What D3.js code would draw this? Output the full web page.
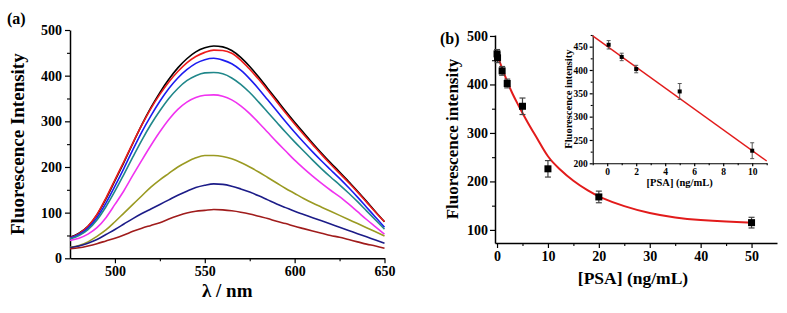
<!DOCTYPE html>
<html>
<head>
<meta charset="utf-8">
<script src="https://cdn.jsdelivr.net/npm/d3@7"></script>
<style>
body { margin: 0; background: #fff; }
svg { display: block; font-family: "Liberation Serif", "Times New Roman", serif; font-weight: bold; }
</style>
</head>
<body>
<svg id="chart" width="787" height="313"></svg>
<script>
// ---- panel (a): emission spectra, every 5 nm ----
var wavelengths = [475, 480, 485, 490, 495, 500, 505, 510, 515, 520, 525, 530, 535, 540, 545, 550, 555, 560,
                   565, 570, 575, 580, 585, 590, 595, 600, 605, 610, 615, 620, 625, 630, 635, 640, 645, 650];
var spec0   = [46, 55, 70, 95, 130, 170, 210, 252, 293, 330, 363, 392, 417, 437, 452, 461, 465, 463,
               455, 440, 420, 397, 372, 347, 322, 298, 275, 252, 230, 209, 189, 168, 147, 125, 102, 80];
var spec01  = [45, 54, 70, 96, 132, 172, 212, 253, 292, 328, 359, 386, 409, 428, 442, 451, 456, 455,
               449, 434, 414, 392, 368, 343, 318, 294, 271, 249, 227, 206, 186, 166, 145, 123, 101, 80];
var spec1   = [44, 52, 66, 89, 121, 158, 197, 238, 277, 312, 344, 372, 395, 413, 427, 435, 438, 434,
               426, 412, 393, 371, 347, 323, 299, 276, 254, 233, 213, 194, 175, 155, 134, 112, 90, 68];
var spec2   = [42, 50, 63, 84, 113, 147, 184, 222, 259, 293, 323, 350, 372, 389, 400, 406, 407, 404,
               395, 381, 363, 342, 320, 298, 276, 255, 235, 215, 196, 178, 161, 143, 124, 104, 84, 64];
var spec5   = [39, 44, 53, 67, 89, 118, 148, 182, 215, 247, 277, 304, 326, 342, 352, 357, 358, 355,
               347, 334, 317, 297, 276, 255, 235, 215, 197, 180, 164, 149, 135, 119, 102, 85, 69, 53];
var spec10  = [24, 28, 36, 48, 62, 80, 99, 118, 137, 156, 172, 186, 200, 211, 220, 225, 225, 223,
               218, 210, 200, 189, 177, 165, 153, 142, 131, 121, 112, 103, 94, 85, 76, 67, 58, 49];
var spec20  = [23, 27, 33, 41, 52, 63, 75, 87, 98, 108, 118, 128, 138, 147, 155, 160, 163, 162,
               158, 152, 145, 137, 128, 119, 111, 103, 96, 89, 82, 75, 68, 61, 54, 47, 40, 33];
var spec50  = [21, 23, 27, 32, 38, 44, 51, 59, 66, 72, 78, 86, 93, 99, 103, 105, 107, 106,
               104, 101, 97, 92, 87, 81, 76, 70, 65, 60, 55, 50, 46, 41, 36, 31, 27, 22];
var spectra = [spec0, spec01, spec1, spec2, spec5, spec10, spec20, spec50];
var specColors = ["#000000", "#ee1c1c", "#1c1cf0", "#20878a", "#f033f0", "#9a9a22", "#1c1c88", "#a01c1c"];

// ---- panel (b): quenching vs PSA concentration ----
var psaConc  = [0, 0.1, 1, 2, 5, 10, 20, 50];
var psaInt   = [463, 455, 428, 402, 355, 226, 168, 115];
var psaErr   = [9, 10, 9, 9, 17, 17, 12, 11];
var fitConc  = [0, 1, 2, 3, 4, 5, 6, 7, 8, 10, 12, 15, 18, 20, 25, 30, 35, 40, 45, 50];
var fitInt   = [462, 433, 406, 381, 361, 341, 322, 304, 287, 249, 228, 200, 180, 168, 148, 134, 125, 120, 117, 115];

// inset: linear range
var insetConc = [0.1, 1, 2, 5, 10];
var insetInt  = [454, 428, 402, 354, 227];
var insetErr  = [9, 8, 8, 17, 17];
var insetFitConc = [-1, 11];
var insetFitInt  = [473, 205];

var svg = d3.select("#chart");

function styleAxis(g, fontSize) {
	g.select(".domain").attr("stroke", "#000").attr("stroke-width", 1.5);
	g.selectAll(".tick line").attr("stroke", "#000").attr("stroke-width", 1.2);
	g.selectAll(".tick text").attr("fill", "#000")
		.style("font-size", fontSize + "px")
		.style("font-family", "'Liberation Serif','Times New Roman',serif")
		.style("font-weight", "bold");
}

function minorAxis(g, axis) {
	g.call(axis.tickFormat("").tickSizeOuter(0));
	g.select(".domain").remove();
	g.selectAll(".tick line").attr("stroke", "#000").attr("stroke-width", 1.1);
}

// ================= (a) =================
var xA = d3.scaleLinear().domain([475, 650]).range([70, 384.5]);
var yA = d3.scaleLinear().domain([0, 500]).range([258.3, 30]);

var gA = svg.append("g");
gA.append("g").attr("transform", "translate(0," + yA.range()[0] + ")")
	.call(minorAxis, d3.axisBottom(xA).tickValues([525, 575, 625]).tickSize(3));
gA.append("g").attr("transform", "translate(" + xA.range()[0] + ",0)")
	.call(minorAxis, d3.axisLeft(yA).tickValues([50, 150, 250, 350, 450]).tickSize(3));

var xAxisA = gA.append("g").attr("transform", "translate(0," + yA.range()[0] + ")")
	.call(d3.axisBottom(xA).tickValues([500, 550, 600, 650]).tickSize(5).tickSizeOuter(0).tickPadding(3));
styleAxis(xAxisA, 14);
var yAxisA = gA.append("g").attr("transform", "translate(" + xA.range()[0] + ",0)")
	.call(d3.axisLeft(yA).tickValues([0, 100, 200, 300, 400, 500]).tickSize(5).tickSizeOuter(0).tickPadding(3));
styleAxis(yAxisA, 14);

var lineA = d3.line()
	.x(function(d, i) { return xA(wavelengths[i]); })
	.y(function(d) { return yA(d); })
	.curve(d3.curveMonotoneX);

gA.selectAll(".spec")
	.data(spectra)
	.enter().append("path")
	.attr("class", "spec")
	.attr("fill", "none")
	.attr("stroke", function(d, i) { return specColors[i]; })
	.attr("stroke-width", 1.6)
	.attr("d", lineA);

gA.append("text").attr("x", 7).attr("y", 24).style("font-size", "16px").text("(a)");
gA.append("text")
	.attr("transform", "translate(24," + ((yA.range()[0] + yA.range()[1]) / 2) + ") rotate(-90)")
	.attr("text-anchor", "middle").style("font-size", "19px")
	.text("Fluorescence Intensity");
gA.append("text")
	.attr("x", (xA.range()[0] + xA.range()[1]) / 2).attr("y", 297)
	.attr("text-anchor", "middle").style("font-size", "19px")
	.text("λ / nm");

// ================= (b) =================
var xB = d3.scaleLinear().domain([-0.4, 55]).range([495, 777]);
var yB = d3.scaleLinear().domain([73, 502]).range([243, 35]);

var gB = svg.append("g");
gB.append("g").attr("transform", "translate(0," + yB.range()[0] + ")")
	.call(minorAxis, d3.axisBottom(xB).tickValues([5, 15, 25, 35, 45]).tickSize(3));
gB.append("g").attr("transform", "translate(" + xB.range()[0] + ",0)")
	.call(minorAxis, d3.axisLeft(yB).tickValues([150, 250, 350, 450]).tickSize(3));

var xAxisB = gB.append("g").attr("transform", "translate(0," + yB.range()[0] + ")")
	.call(d3.axisBottom(xB).tickValues([0, 10, 20, 30, 40, 50]).tickSize(5).tickSizeOuter(0).tickPadding(3));
styleAxis(xAxisB, 14);
var yAxisB = gB.append("g").attr("transform", "translate(" + xB.range()[0] + ",0)")
	.call(d3.axisLeft(yB).tickValues([100, 200, 300, 400, 500]).tickSize(5).tickSizeOuter(0).tickPadding(2));
styleAxis(yAxisB, 14);

var fitLine = d3.line()
	.x(function(d, i) { return xB(fitConc[i]); })
	.y(function(d) { return yB(d); })
	.curve(d3.curveBasis);
gB.append("path").datum(fitInt)
	.attr("fill", "none").attr("stroke", "#e21b1b").attr("stroke-width", 2)
	.attr("d", fitLine);

function errorBars(g, xs, ys, errs, xScale, yScale, cap, color, width) {
	var eb = g.selectAll(null).data(ys).enter().append("g")
		.attr("stroke", color).attr("stroke-width", width);
	eb.append("line")
		.attr("x1", function(d, i) { return xScale(xs[i]); })
		.attr("x2", function(d, i) { return xScale(xs[i]); })
		.attr("y1", function(d, i) { return yScale(d - errs[i]); })
		.attr("y2", function(d, i) { return yScale(d + errs[i]); });
	[-1, 1].forEach(function(s) {
		eb.append("line")
			.attr("x1", function(d, i) { return xScale(xs[i]) - cap; })
			.attr("x2", function(d, i) { return xScale(xs[i]) + cap; })
			.attr("y1", function(d, i) { return yScale(d + s * errs[i]); })
			.attr("y2", function(d, i) { return yScale(d + s * errs[i]); });
	});
}

errorBars(gB, psaConc, psaInt, psaErr, xB, yB, 3, "#444", 1.2);
var sq = 7;
gB.selectAll(".pt").data(psaInt).enter().append("rect")
	.attr("class", "pt")
	.attr("x", function(d, i) { return xB(psaConc[i]) - sq / 2; })
	.attr("y", function(d) { return yB(d) - sq / 2; })
	.attr("width", sq).attr("height", sq).attr("fill", "#000");

gB.append("text").attr("x", 440).attr("y", 44).style("font-size", "16px").text("(b)");
gB.append("text")
	.attr("transform", "translate(458," + ((yB.range()[0] + yB.range()[1]) / 2) + ") rotate(-90)")
	.attr("text-anchor", "middle").style("font-size", "17px")
	.text("Fluorescence intensity");
gB.append("text")
	.attr("x", 633).attr("y", 284)
	.attr("text-anchor", "middle").style("font-size", "17.5px")
	.text("[PSA] (ng/mL)");

// ---- inset ----
var xI = d3.scaleLinear().domain([-1, 11]).range([592.7, 766.7]);
var yI = d3.scaleLinear().domain([200, 475]).range([163.3, 35]);

var gI = svg.append("g");
gI.append("g").attr("transform", "translate(0," + yI.range()[0] + ")")
	.call(minorAxis, d3.axisBottom(xI).tickValues([-1, 1, 3, 5, 7, 9, 11]).tickSize(2));
gI.append("g").attr("transform", "translate(" + xI.range()[0] + ",0)")
	.call(minorAxis, d3.axisLeft(yI).tickValues([225, 275, 325, 375, 425, 475]).tickSize(2));
var xAxisI = gI.append("g").attr("transform", "translate(0," + yI.range()[0] + ")")
	.call(d3.axisBottom(xI).tickValues([0, 2, 4, 6, 8, 10]).tickSize(3).tickSizeOuter(0).tickPadding(2));
styleAxis(xAxisI, 9.5);
var yAxisI = gI.append("g").attr("transform", "translate(" + xI.range()[0] + ",0)")
	.call(d3.axisLeft(yI).tickValues([200, 250, 300, 350, 400, 450]).tickSize(3).tickSizeOuter(0).tickPadding(2));
styleAxis(yAxisI, 9.5);
gI.selectAll(".domain").attr("stroke-width", 1.1);

gI.append("line")
	.attr("x1", xI(insetFitConc[0])).attr("y1", yI(insetFitInt[0]))
	.attr("x2", xI(insetFitConc[1])).attr("y2", yI(insetFitInt[1]))
	.attr("stroke", "#e21b1b").attr("stroke-width", 1.4);

errorBars(gI, insetConc, insetInt, insetErr, xI, yI, 2, "#555", 1);
var sqI = 4;
gI.selectAll(".ipt").data(insetInt).enter().append("rect")
	.attr("class", "ipt")
	.attr("x", function(d, i) { return xI(insetConc[i]) - sqI / 2; })
	.attr("y", function(d) { return yI(d) - sqI / 2; })
	.attr("width", sqI).attr("height", sqI).attr("fill", "#000");

gI.append("text")
	.attr("transform", "translate(572," + ((yI.range()[0] + yI.range()[1]) / 2) + ") rotate(-90)")
	.attr("text-anchor", "middle").style("font-size", "10.5px")
	.text("Fluorescence intensity");
gI.append("text")
	.attr("x", (xI.range()[0] + xI.range()[1]) / 2).attr("y", 186)
	.attr("text-anchor", "middle").style("font-size", "10.5px")
	.text("[PSA] (ng/mL)");
</script>
</body>
</html>
